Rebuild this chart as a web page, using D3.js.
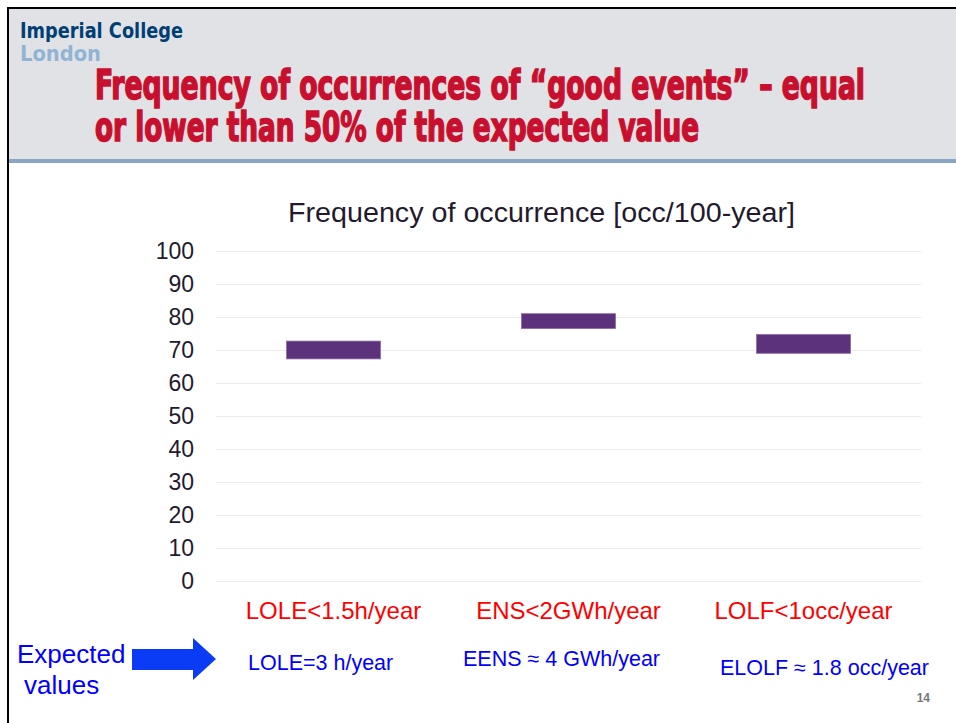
<!DOCTYPE html>
<html>
<head>
<meta charset="utf-8">
<script src="https://cdn.jsdelivr.net/npm/d3@7"></script>
<style>
  body { margin: 0; background: #fff; }
  svg { display: block; }
</style>
</head>
<body>
<div id="chart"></div>
<script>
// values
var categories = ["LOLE<1.5h/year", "ENS<2GWh/year", "LOLF<1occ/year"];
var lowValues = [67.3, 76.5, 69.0];
var highValues = [72.7, 81.0, 74.7];
var expectedLabels = ["LOLE=3 h/year", "EENS \u2248 4 GWh/year", "ELOLF \u2248 1.8 occ/year"];
var yTicks = [0, 10, 20, 30, 40, 50, 60, 70, 80, 90, 100];

var width = 956, height = 723;

var svg = d3.select("#chart").append("svg")
    .attr("width", width)
    .attr("height", height)
    .style("font-family", "Arial, 'Liberation Sans', sans-serif");

// slide header
svg.append("rect").attr("x", 8).attr("y", 9).attr("width", width - 8).attr("height", 151).attr("fill", "#e1e2e6");
svg.append("rect").attr("x", 8).attr("y", 159).attr("width", width - 8).attr("height", 4).attr("fill", "#87a6c6");
svg.append("line").attr("x1", 7).attr("x2", width).attr("y1", 8).attr("y2", 8).attr("stroke", "#000").attr("stroke-width", 2);
svg.append("line").attr("x1", 8).attr("x2", 8).attr("y1", 7).attr("y2", height).attr("stroke", "#000").attr("stroke-width", 2);

var narrow = "'DejaVu Sans Condensed', 'Liberation Sans Narrow', sans-serif";
svg.append("text").attr("x", 20).attr("y", 38).text("Imperial College")
    .attr("font-size", 22).attr("font-weight", "bold").attr("fill", "#003e74")
    .attr("font-family", narrow)
    .attr("textLength", 163).attr("lengthAdjust", "spacingAndGlyphs");
svg.append("text").attr("x", 20).attr("y", 61).text("London")
    .attr("font-size", 22).attr("font-weight", "bold").attr("fill", "#91b4d6")
    .attr("font-family", narrow)
    .attr("textLength", 81).attr("lengthAdjust", "spacingAndGlyphs");

// tall condensed title: smaller font stretched vertically
var titleLines = ["Frequency of occurrences of \u201cgood events\u201d \u2013 equal", "or lower than 50% of the expected value"];
var titleY = [99, 141];
var titleLen = [770, 604];
svg.append("g").selectAll("text")
    .data(titleLines)
    .enter()
    .append("text")
    .attr("transform", (d, i) => "translate(95," + titleY[i] + ") scale(1,1.35)")
    .attr("font-size", 30).attr("font-weight", "bold").attr("fill", "#c8102e")
    .attr("stroke", "#c8102e").attr("stroke-width", 1.2)
    .attr("font-family", narrow)
    .attr("textLength", (d, i) => titleLen[i]).attr("lengthAdjust", "spacingAndGlyphs")
    .text(d => d);

// chart area
var margin = {left: 216, right: 35, top: 251, bottom: 142};
var x = d3.scaleBand()
    .domain(categories)
    .range([margin.left, width - margin.right])
    .paddingInner(0.6)
    .paddingOuter(0.3);
var y = d3.scaleLinear()
    .domain([0, 100])
    .range([height - margin.bottom, margin.top]);

svg.append("text")
    .attr("x", 288).attr("y", 222)
    .attr("font-size", 27).attr("fill", "#231a2e")
    .attr("textLength", 507).attr("lengthAdjust", "spacingAndGlyphs")
    .text("Frequency of occurrence [occ/100-year]");

var yAxis = svg.append("g")
    .attr("transform", "translate(" + margin.left + ",0)")
    .call(d3.axisLeft(y).tickValues(yTicks).tickSize(-(width - margin.right - margin.left)).tickPadding(22));
yAxis.select(".domain").remove();
yAxis.selectAll(".tick line").attr("stroke", "#ebebeb").attr("stroke-width", 1);
yAxis.selectAll(".tick text")
    .attr("font-size", 23).attr("fill", "#231a2e")
    .attr("font-family", "Arial, 'Liberation Sans', sans-serif");

svg.append("g").selectAll("rect")
    .data(categories)
    .enter()
    .append("rect")
    .attr("x", d => x(d))
    .attr("width", x.bandwidth())
    .attr("y", (d, i) => y(highValues[i]))
    .attr("height", (d, i) => y(lowValues[i]) - y(highValues[i]))
    .attr("fill", "#5c327d")
    .attr("stroke", "#8d6aa6")
    .attr("stroke-width", 0.8);

svg.append("g").selectAll("text")
    .data(categories)
    .enter()
    .append("text")
    .attr("x", d => x(d) + x.bandwidth() / 2)
    .attr("y", 619)
    .attr("text-anchor", "middle")
    .attr("font-size", 24)
    .attr("fill", "#ff0000")
    .text(d => d);

// expected values row
var expX = [248, 463, 720];
var expY = [670, 666, 675];
svg.append("g").selectAll("text")
    .data(expectedLabels)
    .enter()
    .append("text")
    .attr("x", (d, i) => expX[i])
    .attr("y", (d, i) => expY[i])
    .attr("font-size", 21.5)
    .attr("fill", "#0000ff")
    .text(d => d);

svg.append("text").attr("x", 17).attr("y", 663).attr("font-size", 26).attr("fill", "#0000ff").text("Expected");
svg.append("text").attr("x", 24).attr("y", 694).attr("font-size", 26).attr("fill", "#0000ff").text("values");

var arrow = [[132, 649], [193, 649], [193, 638], [216, 659], [193, 680], [193, 670], [132, 670]];
svg.append("path")
    .attr("d", d3.line()(arrow) + "Z")
    .attr("fill", "#0a3cf5");

svg.append("text").attr("x", 930).attr("y", 702).attr("text-anchor", "end")
    .attr("font-size", 12).attr("font-weight", "bold").attr("fill", "#777").text("14");
</script>
</body>
</html>
